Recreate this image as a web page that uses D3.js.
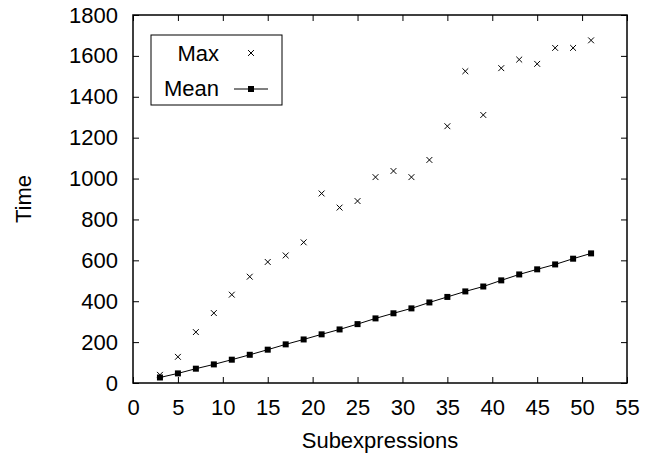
<!DOCTYPE html>
<html>
<head>
<meta charset="utf-8">
<script src="https://cdn.jsdelivr.net/npm/d3@7"></script>
<style>
  body { margin: 0; background: #fff; }
  text { font-family: "Liberation Sans", Arial, sans-serif; }
</style>
</head>
<body>
<main></main>
<script>
// data
let xs = [3, 5, 7, 9, 11, 13, 15, 17, 19, 21, 23, 25, 27, 29, 31, 33, 35, 37, 39, 41, 43, 45, 47, 49, 51]
let maxTime = [40, 128, 249, 342, 432, 520, 592, 624, 688, 927, 858, 890, 1007, 1037, 1007, 1091, 1256, 1525, 1311, 1540, 1582, 1561, 1639, 1639, 1676]
let meanTime = [27, 47, 70, 91, 114, 138, 163, 189, 213, 238, 262, 288, 316, 341, 365, 394, 421, 448, 472, 502, 531, 556, 580, 608, 634]
let xTicks = [0, 5, 10, 15, 20, 25, 30, 35, 40, 45, 50, 55]
let yTicks = [0, 200, 400, 600, 800, 1000, 1200, 1400, 1600, 1800]

let width = 645
let height = 461
let plotLeft = 133, plotRight = 627, plotTop = 15, plotBottom = 383

let svg = d3.select('main')
    .append('svg')
    .attr('width', width)
    .attr('height', height)

let x = d3.scaleLinear().domain([0, 55]).range([plotLeft, plotRight])
let y = d3.scaleLinear().domain([0, 1800]).range([plotBottom, plotTop])

// axes, ticks pointing inward on all four sides
svg.append('g')
    .attr('transform', `translate(0,${plotBottom})`)
    .call(d3.axisBottom(x).tickValues(xTicks).tickFormat(d3.format('d')).tickSizeInner(-6).tickSizeOuter(0).tickPadding(16))
svg.append('g')
    .attr('transform', `translate(0,${plotTop})`)
    .call(d3.axisTop(x).tickValues(xTicks).tickSizeInner(-6).tickSizeOuter(0).tickFormat(''))
svg.append('g')
    .attr('transform', `translate(${plotLeft},0)`)
    .call(d3.axisLeft(y).tickValues(yTicks).tickFormat(d3.format('d')).tickSizeInner(-6).tickSizeOuter(0).tickPadding(15))
svg.append('g')
    .attr('transform', `translate(${plotRight},0)`)
    .call(d3.axisRight(y).tickValues(yTicks).tickSizeInner(-6).tickSizeOuter(0).tickFormat(''))

svg.selectAll('.tick line').attr('stroke', '#000').attr('stroke-width', 1)
svg.selectAll('.domain').remove()
svg.selectAll('.tick text')
    .style('font-size', '22px')
    .style('font-family', '"Liberation Sans", Arial, sans-serif')
    .attr('fill', '#000')

svg.append('rect')
    .attr('x', plotLeft)
    .attr('y', plotTop)
    .attr('width', plotRight - plotLeft)
    .attr('height', plotBottom - plotTop)
    .style('fill', 'none')
    .style('stroke', '#000')
    .style('stroke-width', 1.5)

// axis titles
svg.append('text')
    .attr('x', 380)
    .attr('y', 448)
    .attr('text-anchor', 'middle')
    .style('font-size', '22px')
    .text('Subexpressions')

svg.append('text')
    .attr('transform', `translate(31,${(plotTop + plotBottom) / 2}) rotate(-90)`)
    .attr('text-anchor', 'middle')
    .style('font-size', '22px')
    .text('Time')

// mean line
let line = d3.line()
    .x((d, i) => x(xs[i]))
    .y(d => y(d))

svg.append('path')
    .datum(meanTime)
    .attr('d', line)
    .style('fill', 'none')
    .style('stroke', '#000')
    .style('stroke-width', 1)

// max crosses (drawn first so the mean squares sit on top, as in the original)
let cross = d3.symbol().type(d3.symbolX).size(24)
svg.selectAll('.maxpt')
    .data(maxTime)
    .enter()
    .append('path')
    .attr('d', cross)
    .attr('transform', (d, i) => `translate(${x(xs[i])},${y(d)})`)
    .style('fill', 'none')
    .style('stroke', '#000')
    .style('stroke-width', 1)

svg.selectAll('.meanpt')
    .data(meanTime)
    .enter()
    .append('rect')
    .attr('x', (d, i) => x(xs[i]) - 3)
    .attr('y', d => y(d) - 3)
    .attr('width', 6)
    .attr('height', 6)
    .style('fill', '#000')

// legend
svg.append('rect')
    .attr('x', 151)
    .attr('y', 35)
    .attr('width', 131)
    .attr('height', 70)
    .style('fill', '#fff')
    .style('stroke', '#000')
    .style('stroke-width', 1)

svg.append('text')
    .attr('x', 219)
    .attr('y', 61)
    .attr('text-anchor', 'end')
    .style('font-size', '22px')
    .text('Max')
svg.append('path')
    .attr('d', cross)
    .attr('transform', 'translate(251,53)')
    .style('fill', 'none')
    .style('stroke', '#000')

svg.append('text')
    .attr('x', 219)
    .attr('y', 96)
    .attr('text-anchor', 'end')
    .style('font-size', '22px')
    .text('Mean')
svg.append('line')
    .attr('x1', 234)
    .attr('x2', 268)
    .attr('y1', 89)
    .attr('y2', 89)
    .style('stroke', '#000')
svg.append('rect')
    .attr('x', 248)
    .attr('y', 86)
    .attr('width', 6)
    .attr('height', 6)
    .style('fill', '#000')
</script>
</body>
</html>
